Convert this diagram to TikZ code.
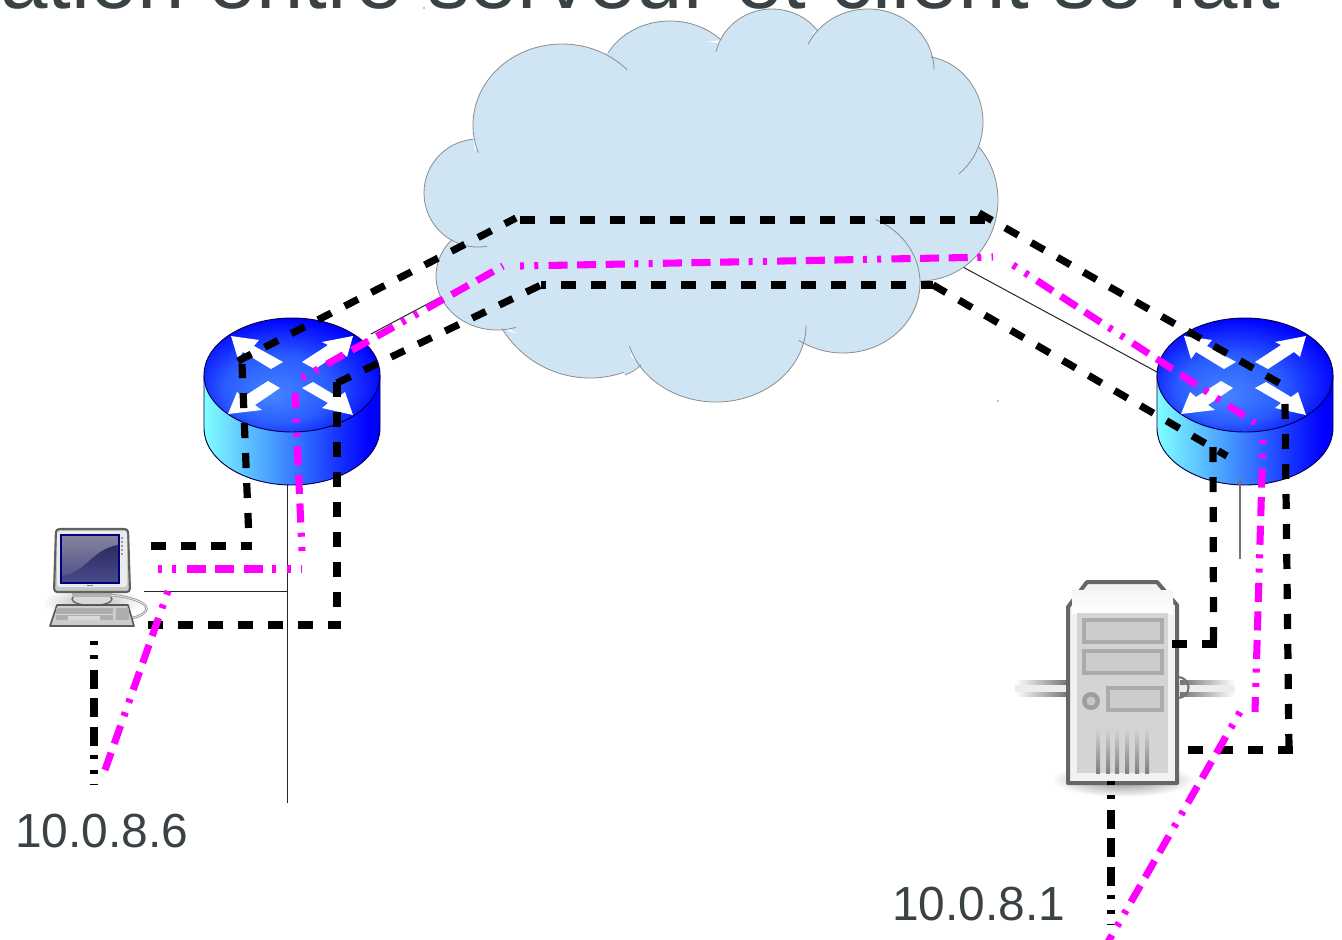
\documentclass[tikz,border=0pt]{standalone}
\usepackage{fontspec}
\setmainfont{Liberation Sans}
\definecolor{inkdark}{HTML}{3A4246}
\definecolor{cloudblue}{HTML}{CFE5F3}
\definecolor{rtA}{HTML}{4585FF}
\definecolor{rtB}{HTML}{2A5CFF}
\definecolor{rtC}{HTML}{0000FF}
\definecolor{bdA}{HTML}{80FFFF}
\definecolor{bdB}{HTML}{4CA4FF}
\definecolor{bdC}{HTML}{2A60FF}
\definecolor{magentaline}{HTML}{FF00FF}
\definecolor{screenlow}{HTML}{4A4C8A}
\definecolor{screendark}{HTML}{2B2B62}
\definecolor{screentop}{HTML}{85849A}
\pgfdeclareradialshading{routertop}{\pgfpoint{-6bp}{-9bp}}{color(0bp)=(rtA);color(15bp)=(rtB);color(29bp)=(rtC);color(50bp)=(rtC)}
\pgfdeclarehorizontalshading{routerbody}{100bp}{color(0bp)=(bdA);color(25bp)=(bdA);color(43bp)=(bdB);color(55bp)=(bdC);color(72bp)=(rtC);color(100bp)=(rtC)}
\tikzset{
  x=0.75pt,y=-0.75pt,
  cloudfill/.style={fill=cloudblue},
  cloudline/.style={draw=black!45,line width=0.6pt},
  thinline/.style={draw=black!85,line width=0.75pt},
  blackdash/.style={draw=black,line width=5.4pt,dash pattern=on 11.25pt off 11.25pt},
  dotdash/.style={line width=5.3pt,dash pattern=on 3pt off 7.7pt on 3pt off 7.7pt on 14.3pt off 7.15pt on 14.3pt off 7.15pt on 14.3pt off 7.15pt},
  pinkdash/.style={dotdash,draw=magentaline},
  darkdash/.style={dotdash,draw=black},
  iptext/.style={font=\fontsize{35.9pt}{38pt}\selectfont,text=inkdark,inner sep=0pt,anchor=base west},
  routeredge/.style={draw=black!70!blue,line width=0.7pt},
  routerarrow/.style={fill=white,draw=none},
  routericon/.pic={
    \shade[shading=routerbody] (-88,0) -- (-88,53) arc[x radius=88,y radius=57,start angle=180,end angle=0] -- (88,0) -- cycle;
    \draw[routeredge] (-88,0) -- (-88,53) arc[x radius=88,y radius=57,start angle=180,end angle=0] -- (88,0);
    \shade[shading=routertop,draw=black!70!blue,line width=0.7pt] (0,0) ellipse[x radius=88,y radius=57];
    \fill[routerarrow] (-61,-39)--(-33,-35)--(-38,-29)--(-9,-13)--(-21,-6)--(-49,-23)--(-54,-16)--cycle;
    \fill[routerarrow] (61,-39)--(55,-18)--(49,-23)--(23,-6)--(10,-13)--(36,-30)--(30,-33)--cycle;
    \fill[routerarrow] (-64,39)--(-55,17)--(-49,22)--(-24,6)--(-12,13)--(-37,30)--(-30,35)--cycle;
    \fill[routerarrow] (61,40)--(30,33)--(36,28)--(10,13)--(21,7)--(46,22)--(53,17)--cycle;
  }
}
\begin{document}
\begin{tikzpicture}
\useasboundingbox (0,0) rectangle (1342,939);
\fill[white] (0,0) rectangle (1342,939);
\begin{scope}
\clip (0,0) rectangle (1342,939);
\node[font=\fontsize{64pt}{70pt}\selectfont,text=inkdark,inner sep=0pt,anchor=base west] (title) at (0,8) {ation entre serveur et client se fait};
\end{scope}
% thin links
\coordinate (tlA) at (371,334); \coordinate (tlB) at (450,292);
\coordinate (trA) at (961,266); \coordinate (trB) at (1157,372);
\draw[thinline] (tlA) -- (tlB);
\draw[thinline] (trA) -- (trB);
\coordinate (vlA) at (287,480); \coordinate (vlB) at (287,803); \coordinate (vlC) at (287,591); \coordinate (hlA) at (144,591);
\draw[thinline] (vlA) -- (vlB);
\draw[thinline] (hlA) -- (vlC);
% cloud: each lobe is an elliptical arc {cx}{cy}{rx}{ry}{from}{to}
\newcommand\cloudlobes[1]{%
 #1{478}{193}{54}{54}{265}{80}%
 #1{562}{125}{89}{81}{160}{317}%
 #1{670}{81}{70}{60}{208}{317}%
 #1{772}{64}{57.4}{55}{193}{323}%
 #1{868}{70}{66}{61}{205}{360}%
 #1{920}{122}{63}{66}{-80}{52}%
 #1{920}{200}{78}{81}{-41}{90}%
 #1{843}{283}{77}{70}{-65}{125}%
 #1{716}{325}{90}{77}{0}{164}%
 #1{590}{275}{103}{103}{70.7}{148.6}%
 #1{497}{276}{61}{54}{222}{72}%
}
\newcommand\lobefill[6]{\fill[cloudfill] ([shift={(#5:#3 and #4)}]#1,#2) arc[x radius=#3,y radius=#4,start angle=#5,end angle=#6] -- cycle;}
\newcommand\lobestroke[6]{\draw[cloudline] ([shift={(#5:#3 and #4)}]#1,#2) arc[x radius=#3,y radius=#4,start angle=#5,end angle=#6];}
\cloudlobes{\lobefill}
\fill[cloudfill] (476,150)--(540,65)--(612,52)--(670,35)--(722,44)--(772,25)--(812,32)--(815,38)--(868,25)--(930,64)--(960,100)--(975,150)--(985,215)--(925,279)--(870,330)--(806,330)--(716,385)--(632,350)--(628,370)--(622,372)--(560,360)--(505,326)--(470,300)--(456,243)--(440,190)--cycle;
\fill[cloudfill] (641,365) -- (625,375) -- (610,340) -- cycle;
\cloudlobes{\lobestroke}
\draw[cloudline] (641,365) .. controls (634,371) .. (625,375);
\fill[black] (424,8) circle[radius=0.7];
\fill[black] (998,401) circle[radius=0.7];
% routers
\pic (routerL) at (292,375) {routericon};
\pic (routerR) at (1245,375) {routericon};
\coordinate (vrA) at (1240,478); \coordinate (vrB) at (1240,559);
\draw[draw=black!55,line width=0.8pt] (vrA) -- (vrB);
% computer
\shade[inner color=black!30,outer color=white,draw=none] (92,602) ellipse[x radius=50,y radius=16];
\draw[black!45,line width=1.8pt] (110,595) .. controls (135,597) and (152,605) .. (145,612) .. controls (141,616) and (135,618) .. (130,618);
\draw[black!12,line width=0.8pt] (110,595) .. controls (135,597) and (152,605) .. (145,612) .. controls (141,616) and (135,618) .. (130,618);
\fill[black!15,draw=black!60,line width=1pt] (92,599) ellipse[x radius=20,y radius=6.5];
\fill[black!30] (72,593) rectangle (112,597);
\fill[black!22,draw=black!62,line width=1.6pt,rounded corners=2.5pt] (56,529) -- (128,529) -- (130,592) -- (54,592) -- cycle;
\fill[black!8,rounded corners=2pt] (57,531) rectangle (127,587);
\shade[top color=screentop,bottom color=screenlow] (61,535) rectangle (119,583);
\shade[top color=screendark,bottom color=screenlow] (61,576) .. controls (85,574) and (92,549) .. (118,545) -- (118,583) -- (61,583) -- cycle;
\draw[blue!50!black,line width=0.8pt] (61,535) rectangle (119,583);
\foreach \dy in {537,541,545,549,553} \fill[black!40] (120.5,\dy) rectangle (123,\dy+1.5);
\fill[black!50] (87,584.5) rectangle (93,586);
\fill[black!20,draw=black!65,line width=1.2pt,line join=round] (57,605) -- (128,605) -- (134,626) -- (50,626) -- cycle;
\fill[black!32] (56,608) rectangle (113,620);
\fill[black!32] (116,608) rectangle (129,620);
\fill[black!15] (68,616) rectangle (100,620);
\draw[black!15,line width=0.6pt] (56,614) -- (113,614);
% server
\shade[inner color=black!45,outer color=white,draw=none] (1123,780) ellipse[x radius=72,y radius=17];
\fill[black!7] (1015,682) rectangle (1068,695);
\fill[black!7] (1177,682) rectangle (1235,695);
\shade[left color=white,right color=black!55] (1015,680.5) rectangle (1068,684);
\shade[left color=white,right color=black!55] (1015,692.5) rectangle (1068,696);
\shade[left color=black!55,right color=white] (1180,680.5) rectangle (1235,684);
\shade[left color=black!55,right color=white] (1180,692.5) rectangle (1235,696);
\draw[black!55,line width=1.6pt] (1178,677) arc[start angle=-90,end angle=90,radius=10.5];
\fill[white!95!black,draw=black!60,line width=3pt,line join=round] (1068,607) -- (1087,582) -- (1157,582) -- (1177,605) -- (1177,783) -- (1068,783) -- cycle;
\shade[top color=black!4,bottom color=white] (1072,590) rectangle (1173,613);
\fill[black!17] (1077,613) rectangle (1168,773);
\foreach \ya/\yb in {620/642,651/673} {\fill[black!20,draw=black!33,line width=3.2pt] (1084,\ya) rectangle (1162,\yb);}
\fill[black!20,draw=black!33,line width=3.2pt] (1108,688) rectangle (1162,710);
\fill[black!38] (1091,701) circle[radius=9];
\fill[black!22] (1091,701) circle[radius=4.5];
\foreach \gx in {1098,1108,1117,1127,1137,1147} {\shade[top color=black!18,bottom color=black!50] (\gx-2,730) rectangle (\gx+2,773);}
% black dashed route, upper: each stretch restarts its dashes
\coordinate (a0) at (151,546); \coordinate (a1) at (252,546);
\coordinate (a2) at (248.5,528); \coordinate (a3) at (242,364);
\coordinate (a4) at (238,361); \coordinate (a5) at (516,218);
\coordinate (a6) at (520,220); \coordinate (a7) at (985,220);
\coordinate (a8) at (979,213); \coordinate (a9) at (1288,388);
\coordinate (a10) at (1285,404); \coordinate (a11) at (1289,750);
\coordinate (a12) at (1293,750); \coordinate (a13) at (1188,750);
\draw[blackdash] (a0)--(a1);
\draw[blackdash] (a2)--(a3);
\draw[blackdash] (a4)--(a5);
\draw[blackdash] (a6)--(a7);
\draw[blackdash] (a8)--(a9);
\draw[blackdash] (a10)--(a11);
\draw[blackdash] (a12)--(a13);
% black dashed route, lower
\coordinate (c0) at (148,625); \coordinate (c1) at (341,625);
\coordinate (c2) at (337,607); \coordinate (c3) at (337,382);
\coordinate (c4) at (337,383); \coordinate (c5) at (541,285);
\coordinate (c6) at (541,285); \coordinate (c7) at (933,285);
\coordinate (c8) at (933,285); \coordinate (c9) at (1227,456);
\coordinate (c10) at (1213,447); \coordinate (c11) at (1213.5,642);
\coordinate (c12) at (1217,644); \coordinate (c13) at (1172,644);
\draw[blackdash] (c0)--(c1);
\draw[blackdash] (c2)--(c3);
\draw[blackdash] (c4)--(c5);
\draw[blackdash,dash phase=7.5pt] (c6)--(c7);
\draw[blackdash] (c8)--(c9);
\draw[blackdash] (c10)--(c11);
\draw[blackdash] (c12)--(c13);
\coordinate (d0) at (94,641); \coordinate (d1) at (94,784);
\draw[darkdash] (d0)--(d1);
\coordinate (e0) at (1111,781); \coordinate (e1) at (1111,925);
\draw[darkdash] (e0)--(e1);
% magenta segments
\coordinate (m0) at (168,591); \coordinate (m1) at (105,770);
\coordinate (m2) at (158,569); \coordinate (m3) at (302,569);
\coordinate (m4) at (302,551); \coordinate (m5) at (295,393);
\coordinate (m6) at (302,378); \coordinate (m7) at (503,266);
\coordinate (m8) at (520,266); \coordinate (m9) at (993,257);
\coordinate (m10) at (1013,265); \coordinate (m11) at (1255,423);
\coordinate (m12) at (1263,440); \coordinate (m13) at (1255,712);
\coordinate (m14) at (1240,712); \coordinate (m15) at (1108,942);
\draw[pinkdash] (m0)--(m1);
\draw[pinkdash] (m2)--(m3);
\draw[pinkdash] (m4)--(m5);
\draw[pinkdash] (m6)--(m7);
\draw[pinkdash] (m8)--(m9);
\draw[pinkdash] (m10)--(m11);
\draw[pinkdash] (m12)--(m13);
\draw[pinkdash] (m14)--(m15);
% labels
\node[iptext] (ipclient) at (15,847) {10.0.8.6};
\node[iptext] (ipserver) at (892,920) {10.0.8.1};
\end{tikzpicture}
\end{document}
